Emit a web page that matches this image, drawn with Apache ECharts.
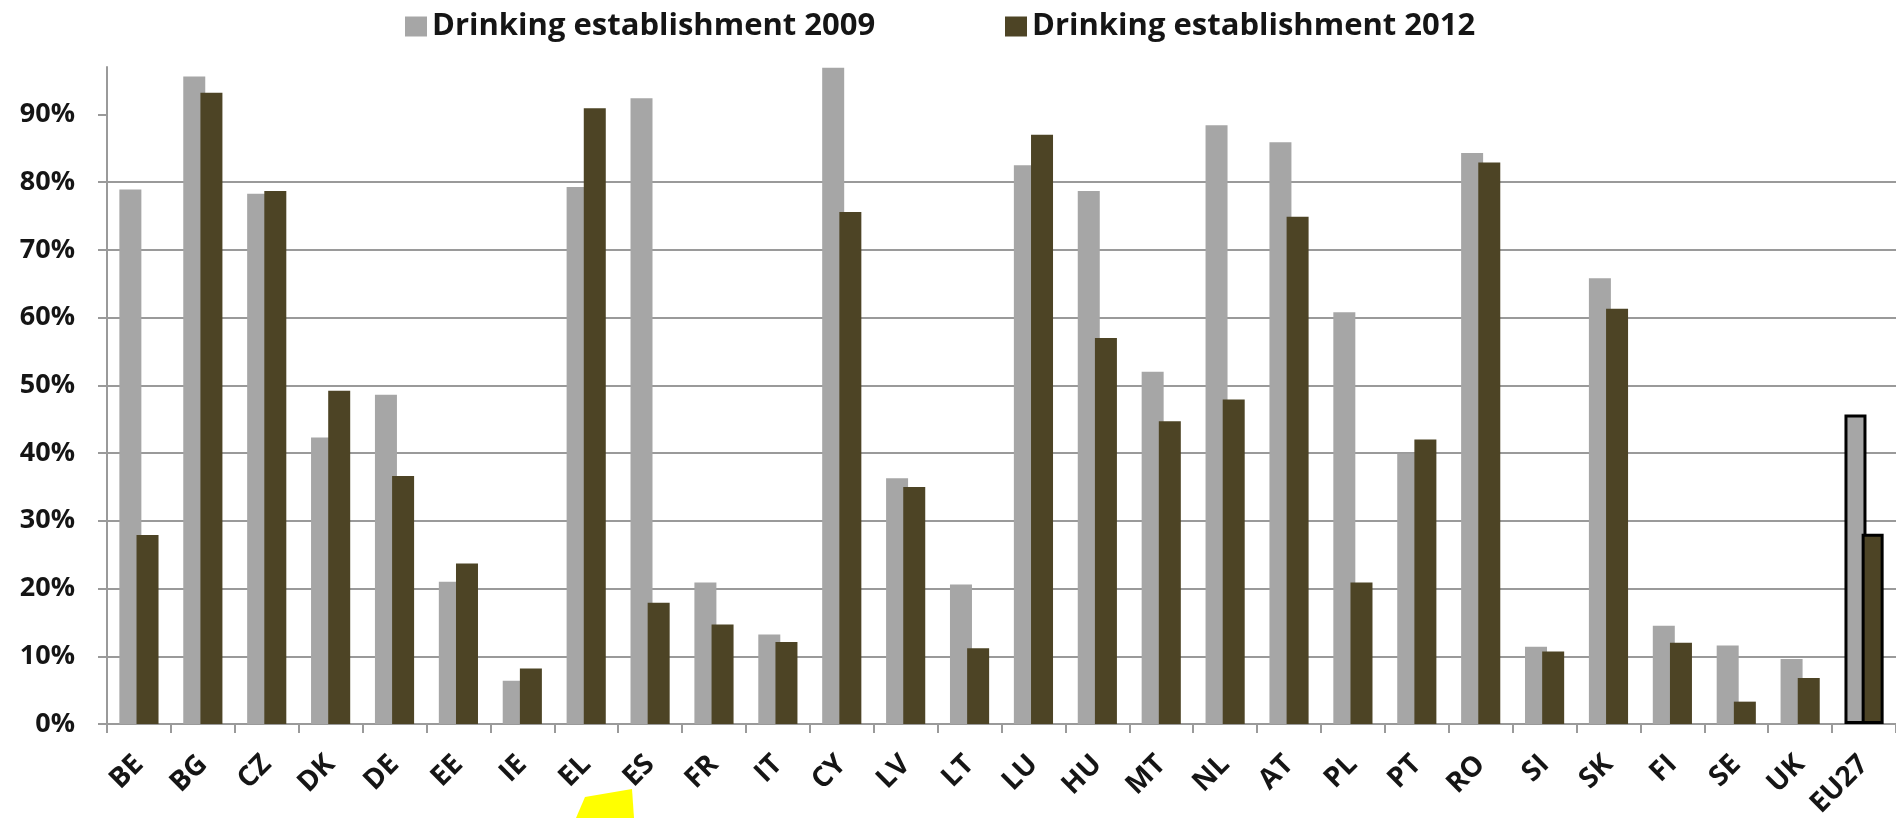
<!DOCTYPE html>
<html>
<head>
<meta charset="utf-8">
<title>Drinking establishment 2009 vs 2012</title>
<script src="https://cdn.jsdelivr.net/npm/echarts@6/dist/echarts.min.js"></script>
<style>
  html, body { margin: 0; padding: 0; background: #ffffff; }
  #chart { width: 1896px; height: 818px; }
</style>
</head>
<body>
<div id="chart"></div>
<script>
// Country codes along the category axis
const countries = ['BE','BG','CZ','DK','DE','EE','IE','EL','ES','FR','IT','CY','LV','LT','LU','HU','MT','NL','AT','PL','PT','RO','SI','SK','FI','SE','UK','EU27'];

// Share of respondents (%) per country
const values2009 = [78.9, 95.6, 78.3, 42.3, 48.6, 21.0, 6.4, 79.3, 92.4, 20.9, 13.2, 96.9, 36.3, 20.6, 82.5, 78.7, 52.0, 88.4, 85.9, 60.8, 39.9, 84.3, 11.4, 65.8, 14.5, 11.6, 9.6, 45.7];
const values2012 = [27.9, 93.2, 78.7, 49.2, 36.6, 23.7, 8.2, 90.9, 17.9, 14.7, 12.1, 75.6, 35.0, 11.2, 87.0, 57.0, 44.7, 47.9, 74.9, 20.9, 42.0, 82.9, 10.7, 61.3, 12.0, 3.3, 6.8, 28.1];

// Value axis ticks (%)
const yTicks = [0, 10, 20, 30, 40, 50, 60, 70, 80, 90];

const seriesNames = ['Drinking establishment 2009', 'Drinking establishment 2012'];
const colors = ['#a6a6a6', '#4d4425'];
const FONT = '"Open Sans"';

// The EU average gets a black outline
function toBarData(values) {
  return values.map((v, i) => {
    if (countries[i] === 'EU27') {
      return { value: v, itemStyle: { borderColor: '#000000', borderWidth: 3 } };
    }
    return v;
  });
}

const chart = echarts.init(document.getElementById('chart'), null, { renderer: 'canvas' });

const legendText = { fontFamily: FONT, fontWeight: 'bold', fontSize: 31, color: '#151515' };

chart.setOption({
  backgroundColor: '#ffffff',
  animation: false,
  color: colors,
  legend: [
    {
      data: [seriesNames[0]], left: 400, top: 6,
      icon: 'rect', itemWidth: 22, itemHeight: 20, itemGap: 4,
      textStyle: legendText
    },
    {
      data: [seriesNames[1]], left: 1000, top: 6,
      icon: 'rect', itemWidth: 22, itemHeight: 20, itemGap: 8,
      textStyle: legendText
    }
  ],
  // fixed plot box; labels may sit close to the canvas edge
  grid: { left: 107, right: 0, top: 67, bottom: 94, containLabel: false, outerBoundsMode: 'none' },
  xAxis: {
    type: 'category',
    data: countries,
    boundaryGap: true,
    axisLine: { show: true, lineStyle: { color: '#9a9a9a', width: 2 } },
    axisTick: { show: true, length: 9, alignWithLabel: false, lineStyle: { color: '#9a9a9a', width: 2 } },
    axisLabel: {
      rotate: 45, margin: 36, interval: 0,
      fontFamily: FONT, fontWeight: 'bold', fontSize: 28, color: '#151515'
    }
  },
  yAxis: {
    type: 'value',
    min: 0, max: 97, interval: 10,
    axisLine: { show: true, lineStyle: { color: '#9a9a9a', width: 2 } },
    axisTick: { show: true, length: 9, customValues: yTicks, lineStyle: { color: '#9a9a9a', width: 2 } },
    axisLabel: {
      customValues: yTicks, margin: 32,
      formatter: '{value}%',
      fontFamily: FONT, fontWeight: 'bold', fontSize: 27, color: '#151515'
    },
    splitLine: { show: true, showMaxLine: false, lineStyle: { color: '#9a9a9a', width: 2 } }
  },
  series: [
    {
      name: seriesNames[0], type: 'bar',
      data: toBarData(values2009),
      barWidth: 22, barGap: '-22%',
      itemStyle: { color: colors[0] }
    },
    {
      name: seriesNames[1], type: 'bar',
      data: toBarData(values2012),
      barWidth: 22, barGap: '-22%',
      itemStyle: { color: colors[1] }
    }
  ],
  graphic: [
    {
      // yellow pointer under the ES label
      type: 'polygon',
      shape: { points: [[585, 797], [632, 789], [634, 818], [576, 818]] },
      style: { fill: '#ffff00' },
      z: 100
    }
  ]
});
</script>
</body>
</html>
